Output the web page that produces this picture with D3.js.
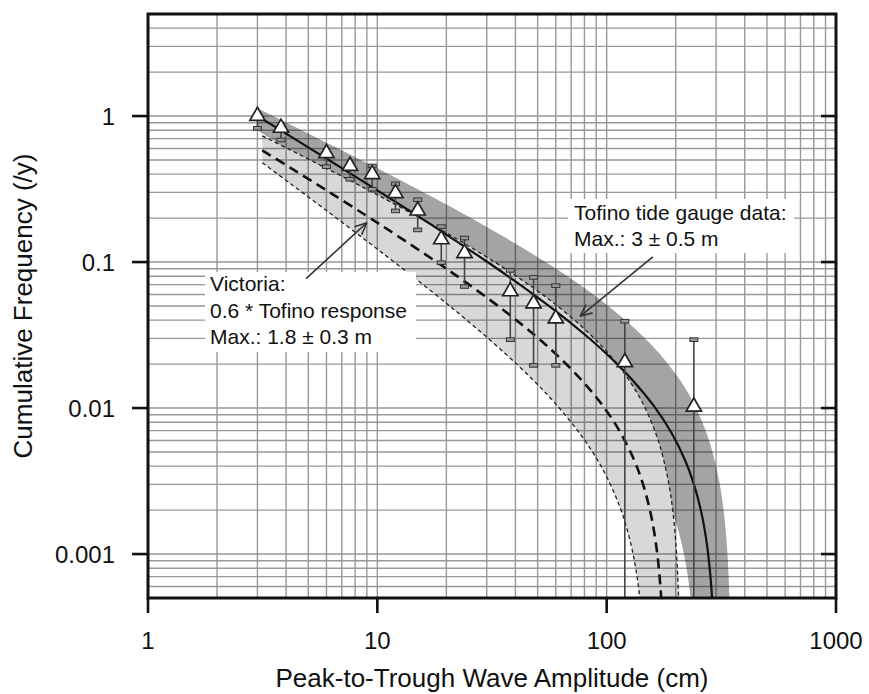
<!DOCTYPE html>
<html><head><meta charset="utf-8">
<script src="https://cdn.jsdelivr.net/npm/d3@7"></script>
<style>body{margin:0;background:#fff}svg{display:block}text{font-family:"Liberation Sans",Arial,Helvetica,sans-serif;fill:#111}</style>
</head><body><svg id="c" width="869" height="694"></svg>
<script>
// ---- data ----
const xTickValues=[1,10,100,1000];
const xTickLabels=["1","10","100","1000"];
const yTickValues=[0.001,0.01,0.1,1];
const yTickLabels=["0.001","0.01","0.1","1"];

// Tofino tide gauge observations
const amplitude=[3,3.8,6,7.6,9.5,12,15,19,24,38,48,60,120,240];
const frequency=[1.0,0.83,0.556,0.455,0.40,0.296,0.225,0.143,0.115,0.063,0.052,0.041,0.0206,0.0102];
const errLow=[0.824,0.686,0.45,0.369,0.315,0.224,0.166,0.099,0.068,0.0294,0.0196,0.0196,0.0005,0.0005];
const errHigh=[null,null,null,null,0.455,0.343,0.267,0.175,0.146,0.0877,0.0785,0.0689,0.0393,0.0294];

// Tofino response curve and envelope [amplitude, frequency]
const tofinoCenter=[[3,1.0],[4,0.7579],[5,0.6107],[7,0.4401],[10,0.3099],[15,0.2068],[20,0.1543],[30,0.1009],[40,0.07371],[60,0.04607],[80,0.03202],[100,0.02346],[130,0.01546],[160,0.01042],[190,0.006928],[220,0.004371],[240,0.003011],[260,0.001858],[275,0.001099],[285,0.0006365],[290,0.000417],[295,0.000205]];
const tofinoUpper=[[3,1.13],[4,0.9043],[5,0.7599],[7,0.5831],[10,0.4386],[15,0.3150],[20,0.2475],[30,0.1740],[40,0.1339],[60,0.09017],[80,0.06633],[100,0.05105],[130,0.03608],[160,0.02616],[200,0.01708],[240,0.01071],[280,0.005964],[310,0.003120],[325,0.001874],[335,0.001095],[342,0.000573],[346,0.000284]];
const tofinoLower=[[3,0.80],[4,0.60],[5,0.49],[7,0.3425],[10,0.2253],[15,0.1392],[20,0.09839],[30,0.05962],[40,0.04121],[60,0.02373],[80,0.01544],[100,0.01065],[130,0.006393],[160,0.003824],[190,0.002116],[210,0.001266],[225,0.000735],[235,0.000421],[242,0.000217]];

// Victoria response curve and envelope
const victoriaCenter=[[3.15,0.5824],[4.2,0.4401],[6,0.3099],[9,0.2068],[12,0.1543],[18,0.1009],[24,0.07371],[36,0.04607],[48,0.03202],[60,0.02346],[78,0.01546],[96,0.01042],[114,0.006928],[132,0.004371],[144,0.003011],[156,0.001858],[165,0.001099],[171,0.0006365],[174,0.000417],[177,0.000205]];
const victoriaUpper=[[3.15,0.7315],[4.2,0.5831],[6,0.4386],[9,0.3150],[12,0.2475],[18,0.1740],[24,0.1339],[36,0.09017],[48,0.06633],[60,0.05105],[78,0.03608],[96,0.02616],[120,0.01708],[144,0.01071],[168,0.005964],[186,0.003120],[195,0.001874],[201,0.001095],[205.2,0.000573],[207.6,0.000284]];
const victoriaLower=[[3.15,0.4790],[4.2,0.3425],[6,0.2253],[9,0.1392],[12,0.09839],[18,0.05962],[24,0.04121],[36,0.02373],[48,0.01544],[60,0.01065],[78,0.006393],[96,0.003824],[114,0.002116],[126,0.001266],[135,0.000735],[141,0.000421],[145.2,0.000217]];

const tofinoLabel=["Tofino tide gauge data:","Max.: 3 \u00b1 0.5 m"];
const victoriaLabel=["Victoria:","0.6 * Tofino response","Max.: 1.8 \u00b1 0.3 m"];

// ---- layout ----
const L=148,R=836,T=14,B=598;
const x=d3.scaleLog().domain([1,1000]).range([L,R]);
const y=d3.scaleLog().domain([0.0005,5]).range([B,T]);
const svg=d3.select("#c");
svg.append("defs").append("clipPath").attr("id","clip").append("rect")
  .attr("x",L).attr("y",T).attr("width",R-L).attr("height",B-T);
const plot=svg.append("g").attr("clip-path","url(#clip)");
const line=d3.line().x(d=>x(d[0])).y(d=>y(d[1])).curve(d3.curveCatmullRom.alpha(0.5));
function band(up,lo){const a=line(up);const b=line(lo.slice().reverse());return a+"L"+b.slice(1)+"Z";}

plot.append("path").attr("d",band(tofinoUpper,tofinoLower)).attr("fill","#a4a4a4");
plot.append("path").attr("d",band(victoriaUpper,victoriaLower)).attr("fill","#d8d8d8");

// grid
const grid=plot.append("g").style("mix-blend-mode","multiply").attr("stroke","#989898").attr("stroke-width",1.4);
grid.selectAll("line.v").data(x.ticks()).join("line")
  .attr("x1",d=>x(d)).attr("x2",d=>x(d)).attr("y1",T).attr("y2",B);
grid.selectAll("line.h").data(y.ticks()).join("line").attr("class","h")
  .attr("y1",d=>y(d)).attr("y2",d=>y(d)).attr("x1",L).attr("x2",R);

// label boxes
svg.append("rect").attr("x",568).attr("y",199).attr("width",226).attr("height",54).attr("fill","#fff");
svg.append("rect").attr("x",205).attr("y",272).attr("width",211).attr("height",80).attr("fill","#fff");

// curves
plot.append("path").attr("d",line(victoriaUpper)).attr("fill","none").attr("stroke","#222").attr("stroke-width",1.3).attr("stroke-dasharray","4,3");
plot.append("path").attr("d",line(victoriaLower)).attr("fill","none").attr("stroke","#222").attr("stroke-width",1.3).attr("stroke-dasharray","4,3");
plot.append("path").attr("d",line(victoriaCenter)).attr("fill","none").attr("stroke","#111").attr("stroke-width",2.6).attr("stroke-dasharray","10,6");
plot.append("path").attr("d",line(tofinoCenter)).attr("fill","none").attr("stroke","#111").attr("stroke-width",2.2);

// error bars
const eb=plot.append("g");
amplitude.forEach((a,i)=>{
  const top=errHigh[i]==null?frequency[i]:errHigh[i];
  eb.append("line").attr("x1",x(a)).attr("x2",x(a)).attr("y1",y(errLow[i])).attr("y2",y(top))
    .attr("stroke","#444").attr("stroke-width",1.6);
  const caps=[];
  if(errLow[i]>y.domain()[0]) caps.push(errLow[i]);
  if(errHigh[i]!=null) caps.push(errHigh[i]);
  caps.forEach(v=>eb.append("rect").attr("x",x(a)-4).attr("y",y(v)-1.8).attr("width",8).attr("height",3.6)
    .attr("fill","#999").attr("stroke","#333").attr("stroke-width",1));
});
// triangles
const sym=d3.symbol().type(d3.symbolTriangle).size(100);
plot.selectAll("path.tri").data(amplitude).join("path").attr("class","tri")
  .attr("d",sym).attr("transform",(d,i)=>`translate(${x(d)},${y(frequency[i])})`)
  .attr("fill","#fff").attr("stroke","#222").attr("stroke-width",1.7);

// arrows
function arrow(x1,y1,x2,y2){
  const g=svg.append("g").attr("stroke","#333").attr("stroke-width",1.6).attr("fill","none");
  g.append("line").attr("x1",x1).attr("y1",y1).attr("x2",x2).attr("y2",y2);
  const ang=Math.atan2(y1-y2,x1-x2),len=13,sp=0.42;
  [ang-sp,ang+sp].forEach(t=>g.append("line").attr("x1",x2).attr("y1",y2)
    .attr("x2",x2+len*Math.cos(t)).attr("y2",y2+len*Math.sin(t)));
}
arrow(x(159),y(0.1087),x(76.6),y(0.0425));
arrow(x(4.89),y(0.0769),x(9.0),y(0.186));

// annotation text
const ft=svg.append("text").attr("font-size",21);
tofinoLabel.forEach((s,i)=>ft.append("tspan").attr("x",574).attr("y",220+i*26).text(s));
const vt=svg.append("text").attr("font-size",21);
victoriaLabel.forEach((s,i)=>vt.append("tspan").attr("x",210).attr("y",291+i*26.5).text(s));

// frame and ticks
svg.append("rect").attr("x",L).attr("y",T).attr("width",R-L).attr("height",B-T)
  .attr("fill","none").attr("stroke","#111").attr("stroke-width",3);
const tk=svg.append("g").attr("stroke","#111").attr("stroke-width",2.6);
yTickValues.forEach(v=>{
  tk.append("line").attr("x1",L-16).attr("x2",L).attr("y1",y(v)).attr("y2",y(v));
  tk.append("line").attr("x1",R-15).attr("x2",R).attr("y1",y(v)).attr("y2",y(v));
});
xTickValues.forEach(v=>tk.append("line").attr("x1",x(v)).attr("x2",x(v)).attr("y1",B).attr("y2",B+15));
yTickValues.forEach((v,i)=>svg.append("text").attr("x",115).attr("y",y(v)).attr("dy","0.36em")
  .attr("text-anchor","end").attr("font-size",24).text(yTickLabels[i]));
xTickValues.forEach((v,i)=>svg.append("text").attr("x",x(v)).attr("y",649)
  .attr("text-anchor","middle").attr("font-size",24).text(xTickLabels[i]));
svg.append("text").attr("x",(L+R)/2).attr("y",687).attr("text-anchor","middle").attr("font-size",26)
  .text("Peak-to-Trough Wave Amplitude (cm)");
svg.append("text").attr("transform",`translate(32,${(T+B)/2}) rotate(-90)`).attr("text-anchor","middle")
  .attr("font-size",26).text("Cumulative Frequency (/y)");
</script></body></html>
